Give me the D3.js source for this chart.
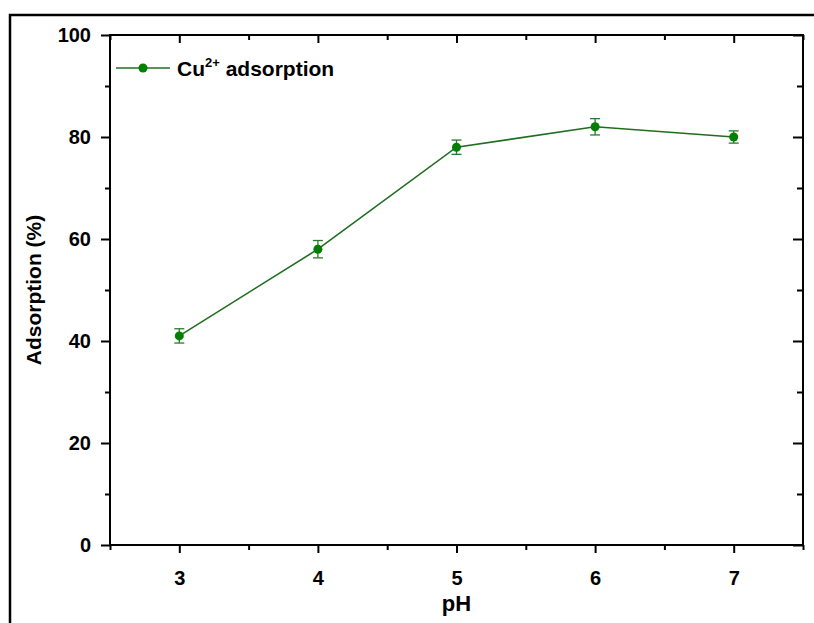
<!DOCTYPE html>
<html>
<head>
<meta charset="utf-8">
<script src="https://cdn.jsdelivr.net/npm/d3@7"></script>
<style>
    body { margin: 0; background: #fff; }
    svg text { font-family: "Liberation Sans", Arial, sans-serif; font-weight: bold; fill: #000; }
</style>
</head>
<body>
<svg width="814" height="623"></svg>
<script>
// data
const phValues = [3, 4, 5, 6, 7]
const adsorption = [41, 58, 78, 82, 80]
const errors = [1.4, 1.7, 1.4, 1.6, 1.2]
const xMajorTicks = [3, 4, 5, 6, 7]
const xMinorTicks = [2.5, 3.5, 4.5, 5.5, 6.5, 7.5]
const yMajorTicks = [0, 20, 40, 60, 80, 100]
const yMinorTicks = [10, 30, 50, 70, 90]
const seriesName = "Cu"
const seriesSup = "2+"

const data = phValues.map((p, i) => ({ x: p, y: adsorption[i], err: errors[i] }))

const green = "#007f00"

const margin = { top: 35, right: 11, bottom: 78, left: 110 },
    width = 814 - margin.left - margin.right,
    height = 623 - margin.top - margin.bottom

let svg = d3.select("svg")

// outer frame (runs off the right and bottom edge)
svg.append("path")
    .attr("d", "M10,640 L10,15 L830,15")
    .attr("fill", "none")
    .attr("stroke", "#000")
    .attr("stroke-width", 2.5)

let g = svg.append("g")
    .attr("transform", `translate(${margin.left},${margin.top})`)

let x = d3.scaleLinear().domain([2.5, 7.5]).range([0, width])
let y = d3.scaleLinear().domain([0, 100]).range([height, 0])

function styleAxis(sel) {
    sel.select(".domain").remove()
    sel.selectAll("line").attr("stroke", "#000").attr("stroke-width", 2)
    sel.selectAll("text").style("font-size", "20px")
}

// bottom axis, major + minor
g.append("g")
    .attr("transform", `translate(0,${height})`)
    .call(d3.axisBottom(x).tickValues(xMajorTicks).tickSize(8).tickPadding(18).tickFormat(d3.format("d")))
    .call(styleAxis)
g.append("g")
    .attr("transform", `translate(0,${height})`)
    .call(d3.axisBottom(x).tickValues(xMinorTicks).tickSize(5).tickFormat(""))
    .call(styleAxis)

// top axis, ticks inward
g.append("g")
    .call(d3.axisBottom(x).tickValues(xMajorTicks).tickSize(8).tickFormat(""))
    .call(styleAxis)
g.append("g")
    .call(d3.axisBottom(x).tickValues(xMinorTicks).tickSize(5).tickFormat(""))
    .call(styleAxis)

// left axis
g.append("g")
    .call(d3.axisLeft(y).tickValues(yMajorTicks).tickSize(9).tickPadding(10))
    .call(styleAxis)
g.append("g")
    .call(d3.axisLeft(y).tickValues(yMinorTicks).tickSize(5).tickFormat(""))
    .call(styleAxis)

// right axis, ticks inward
g.append("g")
    .attr("transform", `translate(${width},0)`)
    .call(d3.axisLeft(y).tickValues(yMajorTicks).tickSize(10).tickFormat(""))
    .call(styleAxis)
g.append("g")
    .attr("transform", `translate(${width},0)`)
    .call(d3.axisLeft(y).tickValues(yMinorTicks).tickSize(6).tickFormat(""))
    .call(styleAxis)

// plot frame
g.append("rect")
    .attr("width", width)
    .attr("height", height)
    .attr("fill", "none")
    .attr("stroke", "#000")
    .attr("stroke-width", 2)

// line
g.append("path")
    .datum(data)
    .attr("fill", "none")
    .attr("stroke", "#1f6e1f")
    .attr("stroke-width", 1.6)
    .attr("d", d3.line().x(d => x(d.x)).y(d => y(d.y)))

// error bars
let eb = g.selectAll(".err")
    .data(data)
    .join("g")
    .attr("class", "err")
    .attr("stroke", "#2b7a2b")
    .attr("stroke-width", 1.3)
eb.append("line")
    .attr("x1", d => x(d.x)).attr("x2", d => x(d.x))
    .attr("y1", d => y(d.y + d.err)).attr("y2", d => y(d.y - d.err))
eb.append("line")
    .attr("x1", d => x(d.x) - 5).attr("x2", d => x(d.x) + 5)
    .attr("y1", d => y(d.y + d.err)).attr("y2", d => y(d.y + d.err))
eb.append("line")
    .attr("x1", d => x(d.x) - 5).attr("x2", d => x(d.x) + 5)
    .attr("y1", d => y(d.y - d.err)).attr("y2", d => y(d.y - d.err))

// points
g.selectAll(".pt")
    .data(data)
    .join("circle")
    .attr("class", "pt")
    .attr("cx", d => x(d.x))
    .attr("cy", d => y(d.y))
    .attr("r", 4.5)
    .attr("fill", green)

// axis titles
svg.append("text")
    .attr("x", margin.left + width / 2)
    .attr("y", 611)
    .attr("text-anchor", "middle")
    .style("font-size", "22px")
    .text("pH")

svg.append("text")
    .attr("transform", `translate(41,${margin.top + height / 2}) rotate(-90)`)
    .attr("text-anchor", "middle")
    .style("font-size", "21px")
    .text("Adsorption (%)")

// legend
let legend = svg.append("g").attr("transform", "translate(116,68)")
legend.append("line")
    .attr("x1", 0).attr("x2", 54)
    .attr("stroke", "#1f6e1f").attr("stroke-width", 1.6)
legend.append("circle")
    .attr("cx", 27).attr("r", 4.5).attr("fill", green)
let lt = legend.append("text")
    .attr("x", 61).attr("y", 8)
    .style("font-size", "21px")
lt.append("tspan").text(seriesName)
lt.append("tspan").attr("dy", -9).style("font-size", "13px").text(seriesSup)
lt.append("tspan").attr("dy", 9).text(" adsorption")
</script>
</body>
</html>
